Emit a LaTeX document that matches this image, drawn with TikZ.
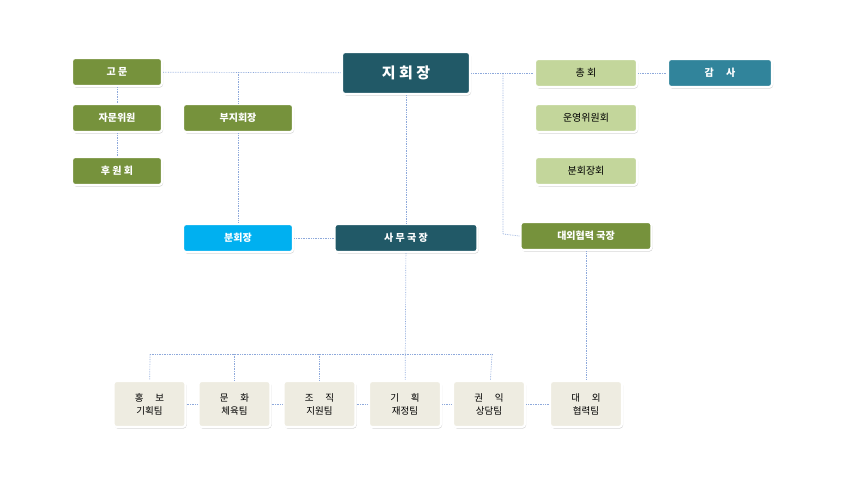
\documentclass[tikz,border=0pt]{standalone}
\usepackage{fontspec}
\setmainfont{Noto Sans CJK KR}
\usetikzlibrary{shadows}
\definecolor{olive}{HTML}{76923C}
\definecolor{dteal}{HTML}{215967}
\definecolor{lgreen}{HTML}{C3D69B}
\definecolor{teal2}{HTML}{31849B}
\definecolor{cyan2}{HTML}{00B0F0}
\definecolor{beige}{HTML}{EEECE1}
\definecolor{ln}{HTML}{8EA9DB}
\begin{document}
\begin{tikzpicture}[x=1pt,y=-1pt,
 box/.style={draw=white,line width=2.2pt,rounded corners=3pt,minimum height=28pt,inner sep=0pt,
   font=\bfseries\fontsize{10}{12}\selectfont,text=white,drop shadow={shadow xshift=1pt,shadow yshift=-1.5pt,opacity=0.35}},
 ol/.style={box,fill=olive},
 lg/.style={box,fill=lgreen,text=black,font=\fontsize{10}{12}\selectfont},
 team/.style={box,fill=beige,text=black,minimum width=72pt,minimum height=46pt,font=\fontsize{9.5}{13}\selectfont,align=center},
 conn/.style={draw=ln,line width=0.7pt,densely dotted}]
\useasboundingbox (0,0) rectangle (845,479);
\node[box,fill=dteal,minimum width=128pt,minimum height=42pt,font=\bfseries\fontsize{15}{18}\selectfont] (ji) at (406,73) {지 회 장};
\node[ol,minimum width=90pt] (gomun) at (117,72) {고 문};
\node[ol,minimum width=90pt] (jamun) at (117,118) {자문위원};
\node[ol,minimum width=90pt] (huwon) at (117,171) {후 원 회};
\node[ol,minimum width=110pt] (buji) at (238,118) {부지회장};
\node[box,fill=cyan2,minimum width=110pt] (bun) at (238,238) {분회장};
\node[box,fill=dteal,minimum width=143pt] (samu) at (406,238) {사 무 국 장};
\node[lg,minimum width=102pt] (chong) at (586,73) {총 회};
\node[box,fill=teal2,minimum width=104pt] (gamsa) at (720,73) {감 \quad 사};
\node[lg,minimum width=102pt] (unyeong) at (586,118) {운영위원회};
\node[lg,minimum width=102pt] (bunjang) at (586,171) {분회장회};
\node[ol,minimum width=131pt] (daeoe) at (586,236) {대외협력 국장};
\node[team] (t1) at (149.5,404) {홍 \quad 보\\기획팀};
\node[team] (t2) at (234.5,404) {문 \quad 화\\체육팀};
\node[team] (t3) at (319.5,404) {조 \quad 직\\지원팀};
\node[team] (t4) at (405,404) {기 \quad 획\\재정팀};
\node[team] (t5) at (489,404) {권 \quad 익\\상담팀};
\node[team] (t6) at (586,404) {대 \quad 외\\협력팀};
\coordinate (a) at (238,72);
\coordinate (b) at (503,73);
\coordinate (c) at (503,234);
\coordinate (bl) at (150,354);
\coordinate (br) at (492,354);
\begin{scope}[on background layer/.try]
\end{scope}
\path[conn] (gomun) -- (ji);
\path[conn] (a) -- (buji) -- (bun);
\path[conn] (gomun) -- (jamun) -- (huwon);
\path[conn] (ji) -- (samu);
\path[conn] (bun) -- (samu);
\path[conn] (ji) -- (chong) -- (gamsa);
\path[conn] (b) -- (c) -- (daeoe.west);
\path[conn] (samu) -- (t4);
\path[conn] (bl) -- (br);
\path[conn] (bl) -- (t1);
\path[conn] (br) -- (t5);
\path[conn] (t2.north |- bl) -- (t2);
\path[conn] (t3.north |- bl) -- (t3);
\path[conn] (daeoe) -- (t6);
\path[conn] (t1) -- (t2) -- (t3) -- (t4) -- (t5) -- (t6);
\end{tikzpicture}
\end{document}
